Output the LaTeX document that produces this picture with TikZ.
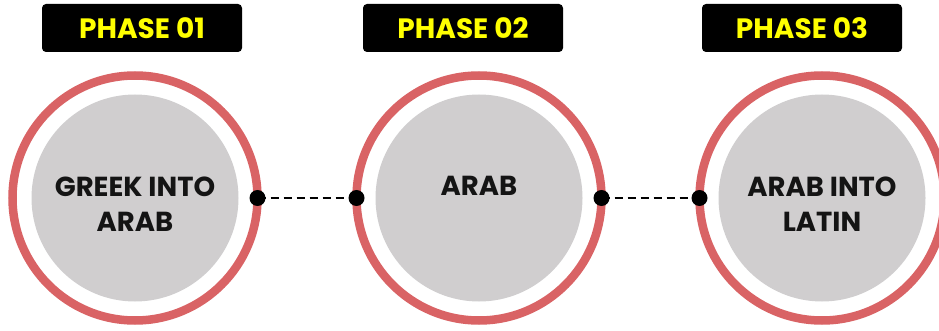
\documentclass[tikz,border=0pt]{standalone}
\usepackage{fontspec}
\setmainfont{Poppins}
\definecolor{ringred}{RGB}{217,99,101}
\definecolor{innergray}{RGB}{208,206,207}
\definecolor{labyellow}{RGB}{255,255,0}
\definecolor{txtblack}{RGB}{20,20,20}
\begin{document}
\begin{tikzpicture}[x=1pt,y=-1pt,
  ring/.style={circle,draw=ringred,line width=8.5pt,minimum size=245pt,inner sep=0pt,outer sep=0pt},
  core/.style={circle,fill=innergray,minimum size=207pt,inner sep=0pt,outer sep=0pt},
  ctext/.style={align=center,inner sep=0pt,font=\fontsize{27.5}{35}\selectfont\bfseries,text=txtblack},
  phase/.style={rectangle,rounded corners=4pt,fill=black,minimum width=200pt,minimum height=48pt,
    inner sep=0pt,font=\fontsize{28}{30}\selectfont\bfseries,text=labyellow},
  link/.style={line width=2pt,dash pattern=on 8pt off 5pt},
  dotc/.style={fill=black}]
\useasboundingbox (0,0) rectangle (939,331);
\node[phase] (p1) at (142,28) {PHASE 01};
\node[phase] (p2) at (463,28) {PHASE 02};
\node[phase] (p3) at (802,28) {PHASE 03};
\node[ring] (r1) at (135,198) {};
\node[ring] (r2) at (479,198) {};
\node[ring] (r3) at (822,198) {};
\node[core] (c1) at (r1.center) {};
\node[core] (c2) at (r2.center) {};
\node[core] (c3) at (r3.center) {};
\node[ctext] (t1) at ([yshift=-6pt]c1.center) {GREEK INTO\\ARAB};
\node[ctext] (t2) at ([yshift=12pt]c2.center) {ARAB};
\node[ctext] (t3) at ([yshift=-6pt]c3.center) {ARAB INTO\\LATIN};
\draw[link] (r1.east) -- (r2.west);
\draw[link] (r2.east) -- (r3.west);
\fill[dotc] (r1.east) circle (8pt);
\fill[dotc] (r2.west) circle (8pt);
\fill[dotc] (r2.east) circle (8pt);
\fill[dotc] (r3.west) circle (8pt);
\end{tikzpicture}
\end{document}
